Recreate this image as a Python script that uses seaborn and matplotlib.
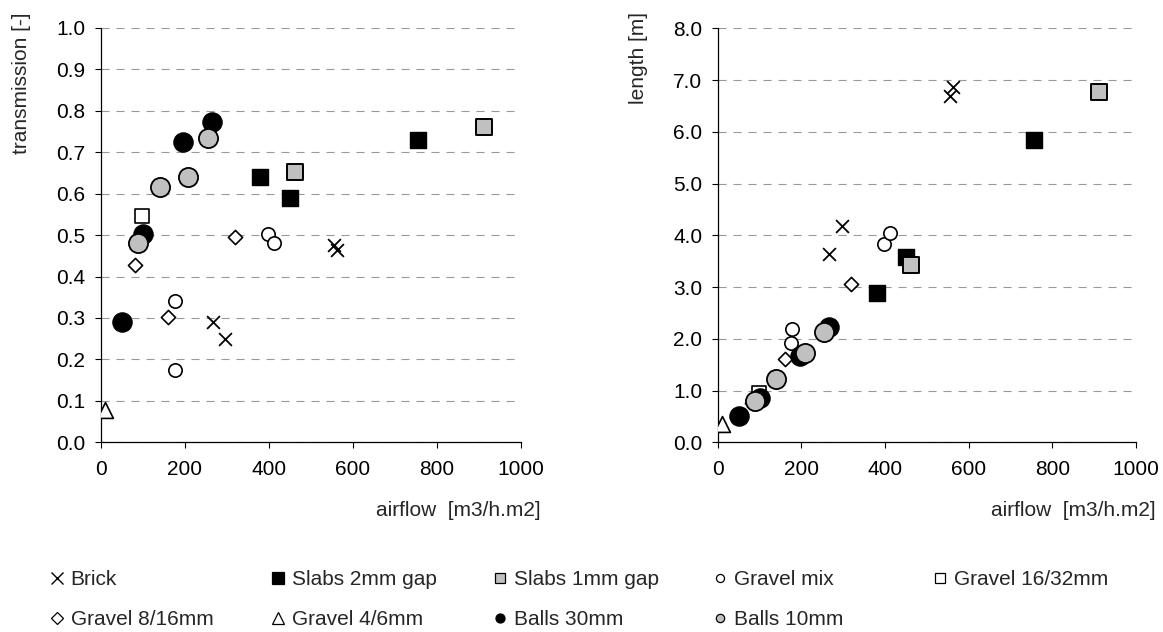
import matplotlib

matplotlib.use("Agg")
import matplotlib.pyplot as plt
import pandas as pd
import seaborn as sns
from matplotlib.lines import Line2D
from matplotlib.ticker import FormatStrFormatter, MultipleLocator

# values
materials = [
    "Brick", "Slabs 2mm gap", "Slabs 1mm gap", "Gravel mix", "Gravel 16/32mm",
    "Gravel 8/16mm", "Gravel 4/6mm", "Balls 30mm", "Balls 10mm",
]

brick_airflow = [267, 296, 555, 562]
brick_transmission = [0.29, 0.25, 0.475, 0.465]
brick_length = [3.63, 4.18, 6.70, 6.86]

slabs2_airflow = [380, 450, 756]
slabs2_transmission = [0.64, 0.59, 0.73]
slabs2_length = [2.89, 3.58, 5.84]

slabs1_airflow = [462, 912]
slabs1_transmission = [0.652, 0.762]
slabs1_length = [3.42, 6.76]

gravel_mix_airflow = [176, 178, 398, 412]
gravel_mix_transmission = [0.175, 0.34, 0.502, 0.48]
gravel_mix_length = [1.92, 2.19, 3.84, 4.04]

gravel_16_32_airflow = [99]
gravel_16_32_transmission = [0.545]
gravel_16_32_length = [0.96]

gravel_8_16_airflow = [81, 161, 319]
gravel_8_16_transmission = [0.427, 0.302, 0.495]
gravel_8_16_length = [0.75, 1.61, 3.05]

gravel_4_6_airflow = [11]
gravel_4_6_transmission = [0.079]
gravel_4_6_length = [0.36]

balls30_airflow = [51, 100, 197, 265]
balls30_transmission = [0.291, 0.502, 0.725, 0.773]
balls30_length = [0.50, 0.85, 1.66, 2.22]

balls10_airflow = [88, 140, 208, 255]
balls10_transmission = [0.48, 0.615, 0.64, 0.735]
balls10_length = [0.79, 1.23, 1.72, 2.14]

series = {
    "Brick": (brick_airflow, brick_transmission, brick_length),
    "Slabs 2mm gap": (slabs2_airflow, slabs2_transmission, slabs2_length),
    "Slabs 1mm gap": (slabs1_airflow, slabs1_transmission, slabs1_length),
    "Gravel mix": (gravel_mix_airflow, gravel_mix_transmission, gravel_mix_length),
    "Gravel 16/32mm": (gravel_16_32_airflow, gravel_16_32_transmission, gravel_16_32_length),
    "Gravel 8/16mm": (gravel_8_16_airflow, gravel_8_16_transmission, gravel_8_16_length),
    "Gravel 4/6mm": (gravel_4_6_airflow, gravel_4_6_transmission, gravel_4_6_length),
    "Balls 30mm": (balls30_airflow, balls30_transmission, balls30_length),
    "Balls 10mm": (balls10_airflow, balls10_transmission, balls10_length),
}

GREY = "#c0c0c0"
# marker, face colour, scatter size, edge width, legend marker size
STYLE = {
    "Brick": ("x", "black", 85, 1.3, 8),
    "Slabs 2mm gap": ("s", "black", 125, 1.0, 8),
    "Slabs 1mm gap": ("s", GREY, 125, 1.4, 7.2),
    "Gravel mix": ("o", "white", 92, 1.2, 5.8),
    "Gravel 16/32mm": ("s", "white", 100, 1.2, 6.5),
    "Gravel 8/16mm": ("D", "white", 52, 1.2, 6),
    "Gravel 4/6mm": ("^", "white", 130, 1.2, 9),
    "Balls 30mm": ("o", "black", 190, 1.0, 6.5),
    "Balls 10mm": ("o", GREY, 190, 1.3, 6),
}

sns.set_theme(style="ticks")
plt.rcParams["font.family"] = ["Liberation Sans", "DejaVu Sans"]
plt.rcParams["font.size"] = 15
plt.rcParams["lines.scale_dashes"] = False

fig = plt.figure(figsize=(11.63, 6.32), dpi=100)
ax_t = fig.add_axes([0.0866, 0.3002, 0.3611, 0.6555])
ax_l = fig.add_axes([0.6171, 0.3002, 0.3597, 0.6550])


def draw(ax, column):
    for name in materials:
        airflow, trans, length = series[name]
        df = pd.DataFrame({"airflow": airflow, "transmission": trans, "length": length})
        marker, face, size, lw, _ = STYLE[name]
        if marker == "x":
            sns.scatterplot(data=df, x="airflow", y=column, ax=ax, marker="x",
                            color="black", s=size, linewidth=lw, legend=False, zorder=3)
        else:
            sns.scatterplot(data=df, x="airflow", y=column, ax=ax, marker=marker,
                            color=face, edgecolor="black", s=size, linewidth=lw,
                            legend=False, zorder=3)


def style_axis(ax, ymax, ystep, ylabel):
    ax.set_xlim(0, 1000)
    ax.set_ylim(0, ymax)
    ax.xaxis.set_major_locator(MultipleLocator(200))
    ax.yaxis.set_major_locator(MultipleLocator(ystep))
    ax.yaxis.set_major_formatter(FormatStrFormatter("%.1f"))
    ax.set_axisbelow(True)
    ax.grid(axis="y", color="#999999", linestyle=(0, (5.8, 5.0)), linewidth=0.8)
    ax.grid(axis="x", visible=False)
    sns.despine(ax=ax)
    for side in ("left", "bottom"):
        ax.spines[side].set_color("black")
        ax.spines[side].set_linewidth(0.9)
    ax.tick_params(axis="both", direction="out", length=4, width=0.8,
                   color="black", labelsize=15, labelcolor="black")
    ax.tick_params(axis="x", pad=9)
    ax.tick_params(axis="y", pad=7)
    ax.set_xlabel("airflow  [m3/h.m2]", loc="right", fontsize=15)
    ax.set_ylabel(ylabel, loc="top", fontsize=15)
    width_px = ax.get_position().width * fig.get_figwidth() * fig.dpi
    ax.xaxis.set_label_coords(1 + 20 / width_px, -0.1417)
    ax.yaxis.set_label_coords(-69.7 / width_px, 1.0386)


draw(ax_t, "transmission")
draw(ax_l, "length")
style_axis(ax_t, 1.0, 0.1, "transmission [-]")
style_axis(ax_l, 8.0, 1.0, "length [m]")


def proxy(name):
    marker, face, _, _, ms = STYLE[name]
    if marker == "x":
        return Line2D([], [], linestyle="none", marker="x", color="black",
                      markersize=ms, markeredgewidth=1.0)
    return Line2D([], [], linestyle="none", marker=marker, markerfacecolor=face,
                  markeredgecolor="black", markersize=ms, markeredgewidth=0.9)


legend_columns = [
    ["Brick", "Gravel 8/16mm"],
    ["Slabs 2mm gap", "Gravel 4/6mm"],
    ["Slabs 1mm gap", "Balls 30mm"],
    ["Gravel mix", "Balls 10mm"],
    ["Gravel 16/32mm"],
]
col_px = [46.6, 267.6, 489.6, 709.6, 929.6]
for names, x_px in zip(legend_columns, col_px):
    fig.legend(
        handles=[proxy(n) for n in names], labels=names,
        loc="upper left", bbox_to_anchor=(x_px / 1163, 1 - 570 / 632),
        frameon=False, fontsize=15, borderpad=0, borderaxespad=0,
        handlelength=1.0, handletextpad=0.15, labelspacing=1.0,
    )

fig.savefig("out.png", dpi=100)
plt.close(fig)
